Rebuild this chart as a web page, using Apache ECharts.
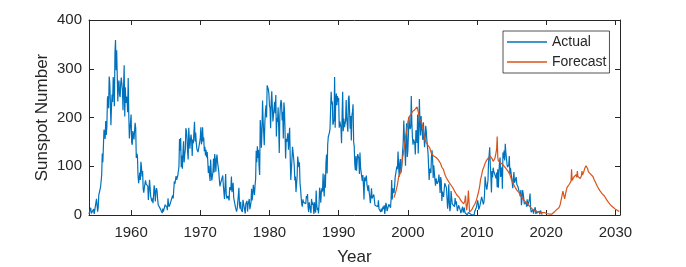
<!DOCTYPE html>
<html>
<head>
<meta charset="utf-8">
<script src="https://cdn.jsdelivr.net/npm/echarts@6/dist/echarts.min.js"></script>
<style>
html,body{margin:0;padding:0;background:#fff;}
#chart{width:686px;height:267px;}
</style>
</head>
<body>
<div id="chart"></div>
<script>
// Monthly sunspot numbers, actual series starts Dec 1953
const actualStart = [1953, 12];
const actualValues = [
  2,
  0, 1, 15, 3, 1, 0, 7, 12, 2, 10, 13, 11,
  33, 29, 7, 16, 41, 45, 38, 57, 60, 82, 126, 108,
  104, 175, 167, 156, 193, 164, 182, 239, 244, 219, 284, 271,
  233, 184, 222, 247, 232, 283, 264, 223, 332, 359, 297, 338,
  286, 233, 269, 276, 247, 242, 270, 282, 284, 256, 215, 265,
  307, 202, 262, 230, 243, 238, 211, 281, 205, 157, 175, 176,
  206, 149, 144, 172, 169, 155, 172, 189, 179, 117, 126, 121,
  82, 65, 75, 87, 72, 109, 99, 79, 90, 53, 46, 56,
  55, 71, 64, 65, 62, 59, 31, 31, 72, 56, 38, 33,
  28, 34, 24, 41, 61, 51, 28, 47, 55, 50, 33, 21,
  22, 25, 23, 12, 13, 13, 4, 13, 7, 9, 10, 21,
  25, 20, 16, 10, 34, 22, 17, 13, 24, 28, 22, 24,
  40, 34, 36, 69, 64, 67, 80, 72, 71, 81, 81, 99,
  156, 132, 158, 98, 122, 95, 129, 151, 108, 124, 133, 178,
  172, 158, 130, 114, 179, 156, 136, 154, 165, 152, 121, 155,
  147, 170, 191, 151, 169, 149, 136, 138, 129, 135, 132, 138,
  157, 180, 145, 154, 180, 151, 159, 131, 140, 122, 134, 118,
  129, 111, 86, 101, 81, 70, 114, 87, 71, 73, 89, 116,
  87, 125, 113, 89, 114, 124, 108, 108, 90, 86, 59, 64,
  61, 60, 65, 81, 60, 56, 33, 36, 84, 43, 34, 33,
  39, 37, 30, 57, 56, 51, 79, 47, 57, 66, 35, 29,
  27, 16, 16, 7, 13, 16, 40, 56, 20, 13, 27, 11,
  11, 6, 31, 27, 17, 17, 3, 23, 19, 29, 7, 22,
  23, 33, 12, 18, 26, 54, 30, 42, 62, 62, 41, 61,
  73, 132, 108, 141, 117, 134, 99, 82, 195, 176, 138, 173,
  235, 194, 195, 143, 190, 211, 225, 200, 266, 263, 258, 249,
  225, 219, 178, 231, 254, 222, 192, 191, 219, 232, 209, 246,
  161, 199, 191, 221, 180, 127, 203, 224, 236, 229, 194, 212,
  157, 231, 217, 172, 116, 156, 150, 152, 168, 134, 138, 179,
  119, 72, 94, 114, 140, 128, 116, 101, 71, 79, 47, 47,
  80, 120, 118, 98, 108, 65, 53, 36, 22, 17, 32, 26,
  23, 22, 24, 23, 39, 34, 43, 16, 6, 26, 23, 24,
  4, 33, 21, 26, 19, 2, 26, 10, 5, 50, 21, 10,
  15, 3, 21, 56, 47, 25, 47, 55, 48, 85, 56, 38,
  83, 56, 107, 124, 85, 144, 160, 157, 169, 176, 176, 253,
  227, 233, 185, 184, 195, 283, 179, 238, 249, 225, 244, 233,
  240, 179, 192, 192, 180, 147, 205, 253, 172, 198, 180, 177,
  193, 236, 200, 197, 171, 239, 245, 242, 177, 203, 153, 204,
  212, 227, 150, 141, 104, 92, 121, 91, 90, 125, 129, 116,
  84, 128, 98, 88, 86, 70, 82, 60, 32, 77, 69, 74,
  81, 64, 56, 49, 61, 46, 37, 24, 22, 55, 34, 38,
  34, 42, 44, 20, 20, 22, 20, 20, 17, 30, 13, 14,
  16, 6, 13, 7, 8, 17, 12, 20, 2, 1, 25, 19,
  8, 11, 12, 22, 26, 18, 15, 34, 72, 32, 55, 58,
  45, 57, 77, 75, 79, 100, 94, 130, 131, 78, 104, 115,
  87, 93, 97, 90, 150, 194, 160, 132, 101, 165, 188, 119,
  131, 164, 201, 182, 176, 181, 244, 189, 159, 144, 155, 151,
  147, 124, 174, 165, 148, 206, 126, 163, 238, 193, 163, 203,
  179, 169, 154, 190, 190, 139, 156, 183, 172, 153, 149, 128,
  124, 72, 95, 94, 86, 121, 133, 113, 76, 102, 105, 73,
  60, 75, 79, 64, 67, 70, 83, 66, 45, 78, 70, 29,
  48, 45, 37, 37, 65, 61, 61, 56, 34, 13, 28, 63,
  25, 8, 17, 49, 36, 23, 20, 21, 23, 17, 35, 22,
  28, 18, 8, 6, 20, 20, 16, 10, 4, 2, 3, 17,
  5, 3, 15, 5, 5, 5, 1, 0, 1, 5, 7, 1,
  2, 2, 1, 1, 3, 5, 5, 0, 7, 7, 6, 16,
  19, 30, 25, 11, 13, 19, 25, 29, 37, 34, 33, 22,
  27, 41, 79, 76, 58, 52, 61, 71, 109, 123, 139, 102,
  82, 46, 90, 77, 97, 90, 93, 88, 86, 75, 87, 57,
  94, 56, 86, 108, 118, 78, 85, 98, 54, 128, 116, 132,
  112, 146, 128, 117, 104, 98, 100, 103, 121, 84, 97, 93,
  93, 67, 55, 75, 88, 66, 66, 65, 78, 63, 62, 58,
  57, 57, 54, 38, 51, 20, 32, 51, 45, 34, 22, 19,
  26, 27, 17, 32, 18, 19, 18, 33, 44, 13, 6, 8,
  7, 11, 3, 9, 13, 16, 2, 9, 4, 4, 6, 3,
  8, 1, 9, 10, 10, 1, 1
];

// Forecast series starts Jan 1998
const forecastStart = [1998, 1];
const forecastValues = [
  36, 39, 43, 46, 52, 57, 63, 70, 78, 80, 83, 85,
  88, 97, 108, 119, 124, 133, 141, 151, 160, 166, 171, 179,
  190, 196, 201, 202, 205, 206, 209, 210, 212, 211, 214, 214,
  216, 215, 218, 219, 222, 220, 212, 206, 200, 194, 191, 190,
  189, 185, 181, 170, 166, 157, 156, 150, 151, 146, 147, 143,
  145, 139, 138, 133, 131, 126, 127, 124, 125, 121, 123, 119,
  122, 118, 121, 117, 118, 113, 115, 110, 109, 105, 103, 98,
  98, 94, 93, 88, 86, 81, 79, 76, 76, 72, 72, 68,
  69, 65, 65, 61, 61, 58, 58, 54, 53, 49, 49, 45,
  45, 41, 42, 38, 39, 36, 37, 32, 32, 28, 29, 26,
  25, 23, 26, 30, 40, 22, 10, 7, 28, 50, 30, 6,
  4, 6, 8, 11, 14, 16, 18, 20, 22, 25, 27, 30,
  35, 40, 44, 49, 55, 62, 72, 76, 82, 88, 93, 97,
  99, 102, 106, 108, 111, 113, 114, 116, 118, 119, 120, 121,
  120, 118, 116, 114, 110, 109, 112, 116, 122, 128, 135, 161,
  118, 111, 111, 108, 112, 107, 110, 106, 107, 103, 103, 99,
  100, 97, 98, 94, 95, 91, 91, 87, 87, 83, 81, 75,
  72, 69, 66, 64, 62, 60, 57, 55, 53, 51, 50, 49,
  48, 46, 44, 42, 40, 38, 36, 34, 32, 31, 30, 28,
  27, 26, 25, 24, 22, 21, 20, 18, 16, 15, 14, 13,
  12, 11, 10, 10, 9, 9, 8, 8, 7, 7, 7, 6,
  6, 6, 5, 5, 6, 5, 5, 4, 4, 5, 4, 4,
  4, 3, 3, 4, 3, 3, 2, 3, 3, 4, 2, 3,
  4, 5, 6, 8, 9, 10, 11, 12, 13, 14, 15, 16,
  20, 26, 29, 37, 41, 49, 47, 38, 33, 34, 46, 50,
  56, 55, 59, 58, 63, 62, 67, 69, 94, 71, 75, 74,
  78, 76, 80, 79, 83, 77, 90, 79, 80, 77, 78, 75,
  78, 80, 90, 82, 84, 88, 92, 96, 99, 101, 100, 97,
  95, 89, 89, 86, 87, 84, 85, 82, 83, 79, 78, 73,
  72, 68, 67, 63, 62, 58, 58, 54, 54, 50, 50, 46,
  47, 44, 44, 41, 42, 39, 39, 35, 35, 31, 31, 27,
  26, 24, 30, 22, 20, 19, 18, 17, 16, 15, 14, 13,
  12, 11, 11, 10, 9, 8, 8, 7, 7
];

const xTicks = [1960, 1970, 1980, 1990, 2000, 2010, 2020, 2030];
const yTicks = [0, 100, 200, 300, 400];
const seriesNames = ['Actual', 'Forecast'];

function toSeries(start, values) {
  return values.map((v, i) => [start[0] + (start[1] - 1 + i) / 12, v]);
}
const actualData = toSeries(actualStart, actualValues);
const forecastData = toSeries(forecastStart, forecastValues);
const xMin = actualData[0][0];
const xMax = forecastData[forecastData.length - 1][0];

const AX = '#262626';
const FONT = '"Liberation Sans", Arial, Helvetica, sans-serif';

const chart = echarts.init(document.getElementById('chart'), null, {renderer: 'canvas'});
chart.setOption({
  animation: false,
  backgroundColor: '#ffffff',
  textStyle: {fontFamily: FONT},
  grid: {left: 89, right: 66, top: 20, bottom: 52, containLabel: false, outerBoundsMode: 'none'},
  legend: {
    data: seriesNames,
    orient: 'vertical',
    left: 503,
    top: 31,
    padding: [3, 3, 3, 4],
    itemGap: 4,
    itemWidth: 40,
    itemHeight: 1.5,
    icon: 'rect',
    borderColor: AX,
    borderWidth: 0.8,
    borderRadius: 0,
    backgroundColor: '#ffffff',
    textStyle: {fontSize: 14, color: AX, fontFamily: FONT, lineHeight: 16}
  },
  xAxis: [{
    type: 'value',
    min: xMin,
    max: xMax,
    position: 'bottom',
    name: 'Year',
    nameLocation: 'middle',
    nameGap: 34,
    nameMoveOverlap: false,
    nameTextStyle: {fontSize: 17, color: AX, fontFamily: FONT},
    axisLine: {show: true, onZero: false, lineStyle: {color: AX, width: 1}},
    axisTick: {show: true, inside: true, length: 5, customValues: xTicks, lineStyle: {color: AX}},
    axisLabel: {show: true, customValues: xTicks, fontSize: 15, color: AX, margin: 10, fontFamily: FONT,
      formatter: v => String(Math.round(v))},
    splitLine: {show: false}
  }, {
    type: 'value',
    min: xMin,
    max: xMax,
    position: 'top',
    axisLine: {show: true, onZero: false, lineStyle: {color: AX, width: 1}},
    axisTick: {show: true, inside: true, length: 5, customValues: xTicks, lineStyle: {color: AX}},
    axisLabel: {show: false},
    splitLine: {show: false}
  }],
  yAxis: [{
    type: 'value',
    min: 0,
    max: 400,
    interval: 100,
    position: 'left',
    name: 'Sunspot Number',
    nameLocation: 'middle',
    nameGap: 38,
    nameMoveOverlap: false,
    nameTextStyle: {fontSize: 17, color: AX, fontFamily: FONT},
    axisLine: {show: true, onZero: false, lineStyle: {color: AX, width: 1}},
    axisTick: {show: true, inside: true, length: 5, lineStyle: {color: AX}},
    axisLabel: {show: true, fontSize: 15, color: AX, margin: 7, fontFamily: FONT,
      customValues: yTicks, formatter: v => String(v)},
    splitLine: {show: false}
  }, {
    type: 'value',
    min: 0,
    max: 400,
    interval: 100,
    position: 'right',
    axisLine: {show: true, onZero: false, lineStyle: {color: AX, width: 1}},
    axisTick: {show: true, inside: true, length: 5, lineStyle: {color: AX}},
    axisLabel: {show: false},
    splitLine: {show: false}
  }],
  series: [{
    name: 'Actual',
    type: 'line',
    xAxisIndex: 0,
    yAxisIndex: 0,
    data: actualData,
    showSymbol: false,
    symbol: 'none',
    color: '#0072BD',
    lineStyle: {color: '#0072BD', width: 1.2},
    z: 2
  }, {
    name: 'Forecast',
    type: 'line',
    xAxisIndex: 0,
    yAxisIndex: 0,
    data: forecastData,
    showSymbol: false,
    symbol: 'none',
    color: '#D95319',
    lineStyle: {color: '#D95319', width: 1.2},
    z: 3
  }]
});
</script>
</body>
</html>
